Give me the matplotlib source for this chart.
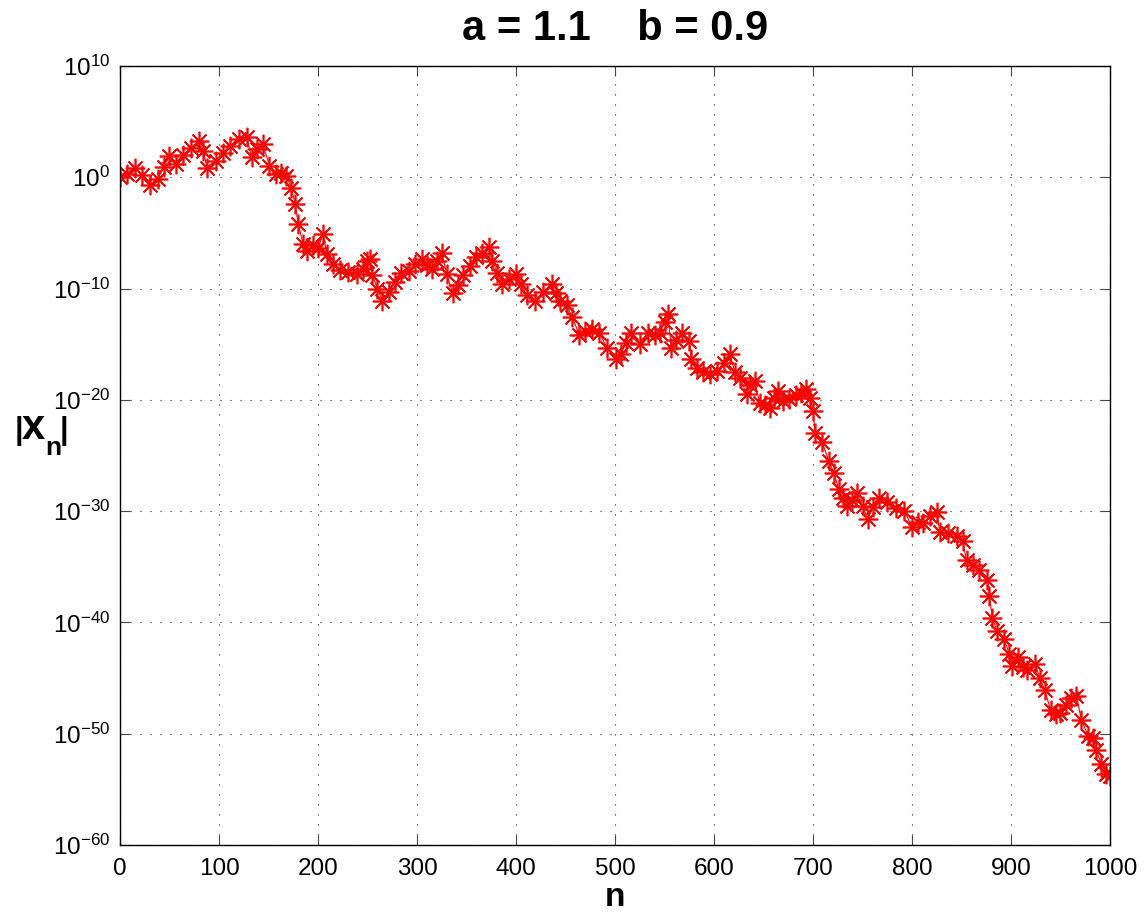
import matplotlib
matplotlib.use("Agg")
import matplotlib.pyplot as plt
import numpy as np

plt.rcParams['font.family'] = ['Liberation Sans', 'DejaVu Sans']
plt.rcParams['mathtext.fontset'] = 'custom'
plt.rcParams['mathtext.rm'] = 'Liberation Sans'
plt.rcParams['mathtext.it'] = 'Liberation Sans:italic'
plt.rcParams['mathtext.bf'] = 'Liberation Sans:bold'

# iteration index and log10|x_n|
n = [0, 7, 15, 22, 30, 38, 44, 50, 57, 64, 72, 80, 84, 88, 97, 104, 111, 120,
     128, 133, 138, 144, 151, 158, 163, 168, 173, 177, 180, 185, 189, 195, 200,
     205, 209, 215, 222, 230, 239, 245, 249, 252, 255, 260, 265, 272, 278, 284,
     292, 298, 305, 310, 315, 320, 325, 330, 336, 341, 346, 353, 360, 366, 373,
     376, 381, 386, 393, 400, 405, 411, 419, 427, 436, 440, 444, 451, 457, 464,
     470, 477, 484, 492, 501, 506, 511, 516, 525, 533, 540, 545, 550, 553, 557,
     562, 568, 575, 577, 583, 589, 596, 603, 610, 616, 621, 626, 633, 636, 641,
     646, 651, 656, 661, 665, 670, 676, 683, 688, 693, 697, 700, 702, 709, 716,
     721, 726, 730, 734, 739, 744, 750, 755, 761, 767, 775, 784, 792, 800, 806,
     811, 818, 825, 828, 836, 845, 851, 855, 862, 868, 876, 878, 881, 886, 893,
     898, 901, 907, 912, 916, 924, 929, 934, 940, 945, 949, 955, 960, 966, 971,
     978, 983, 986, 991, 996, 1000]
log_x = [0.0, 0.3, 0.8, 0.2, -0.7, -0.2, 0.9, 1.9, 1.2, 2.0, 2.6, 3.3, 2.4,
         0.8, 1.5, 2.2, 2.85, 3.4, 3.6, 1.8, 2.5, 3.0, 1.05, 0.3, 0.4, 0.15,
         -1.0, -2.4, -4.2, -6.0, -6.6, -6.1, -6.4, -5.1, -6.9, -7.8, -8.3,
         -8.5, -8.7, -8.2, -7.5, -7.3, -8.8, -10.0, -11.1, -10.3, -9.4, -8.6,
         -8.4, -7.8, -7.3, -7.9, -8.2, -7.5, -6.8, -8.7, -10.4, -9.7, -8.8,
         -8.0, -7.2, -6.8, -6.3, -7.5, -8.6, -9.6, -9.1, -8.7, -9.6, -10.6,
         -11.1, -10.3, -9.6, -10.4, -11.1, -11.5, -12.6, -14.2, -13.8, -13.6,
         -14.0, -15.3, -16.3, -15.9, -14.9, -14.0, -15.0, -14.0, -14.2, -14.0,
         -13.0, -12.3, -15.3, -14.6, -14.0, -14.7, -16.3, -17.1, -17.5, -17.7,
         -17.4, -16.7, -15.9, -17.5, -18.0, -19.5, -18.7, -18.3, -20.3, -20.5,
         -20.7, -19.8, -19.2, -20.1, -19.9, -19.6, -19.4, -19.0, -19.8, -21.0,
         -23.0, -23.8, -25.5, -26.6, -28.0, -28.8, -29.5, -29.0, -28.4, -29.5,
         -30.7, -29.6, -28.8, -29.2, -29.7, -30.0, -31.4, -31.0, -31.1, -30.4,
         -30.1, -31.9, -32.0, -32.2, -32.7, -34.4, -34.8, -35.3, -36.2, -37.6,
         -39.6, -40.8, -41.5, -42.8, -43.9, -43.1, -44.0, -44.3, -43.7, -45.0,
         -46.1, -47.9, -48.2, -48.1, -47.4, -46.8, -46.6, -48.8, -50.2, -50.4,
         -51.5, -52.7, -53.6, -53.8]

x_ticks = [0, 100, 200, 300, 400, 500, 600, 700, 800, 900, 1000]
y_ticks = [1e10, 1e0, 1e-10, 1e-20, 1e-30, 1e-40, 1e-50, 1e-60]

W, H = 1146, 915
fig = plt.figure(figsize=(W / 100, H / 100), dpi=100)
ax = fig.add_axes([0.1047, 0.0765, 0.8640, 0.8514])

# matlab-style '*' marker: eight-armed asterisk
ax.semilogy(n, 10.0 ** np.array(log_x), color='#ff0000', marker=(8, 2, 0),
            markersize=14, markeredgewidth=1.2, linewidth=0.8)

ax.set_xlim(0, 1000)
ax.set_ylim(1e-60, 1e10)
ax.set_xticks(x_ticks)
ax.set_yticks(y_ticks)
ax.yaxis.set_minor_locator(matplotlib.ticker.NullLocator())
ax.tick_params(axis='both', which='major', direction='in', length=7,
               width=0.8, color='#444444', top=True, right=True,
               labelsize=17.5)
ax.tick_params(axis='x', pad=9)
ax.tick_params(axis='y', pad=7)
ax.grid(True, linestyle=(0, (1, 8)), color='#222222', linewidth=0.8)
for s in ax.spines.values():
    s.set_linewidth(1.0)

ax.set_title('a = 1.1    b = 0.9', fontsize=30, fontweight='bold', pad=19)
ax.set_xlabel('n', fontsize=24, fontweight='bold', labelpad=2)

# y label drawn in pieces so the subscript keeps a large size
def label_part(px, py, s, size):
    fig.text(px / W, 1 - py / H, s, fontsize=size, fontweight='bold',
             ha='left', va='baseline')

label_part(15, 439, '|', 22)
label_part(22, 439, 'x', 30)
label_part(45, 455, 'n', 19)
label_part(60, 439, '|', 22)

fig.savefig('out.png', dpi=100)
